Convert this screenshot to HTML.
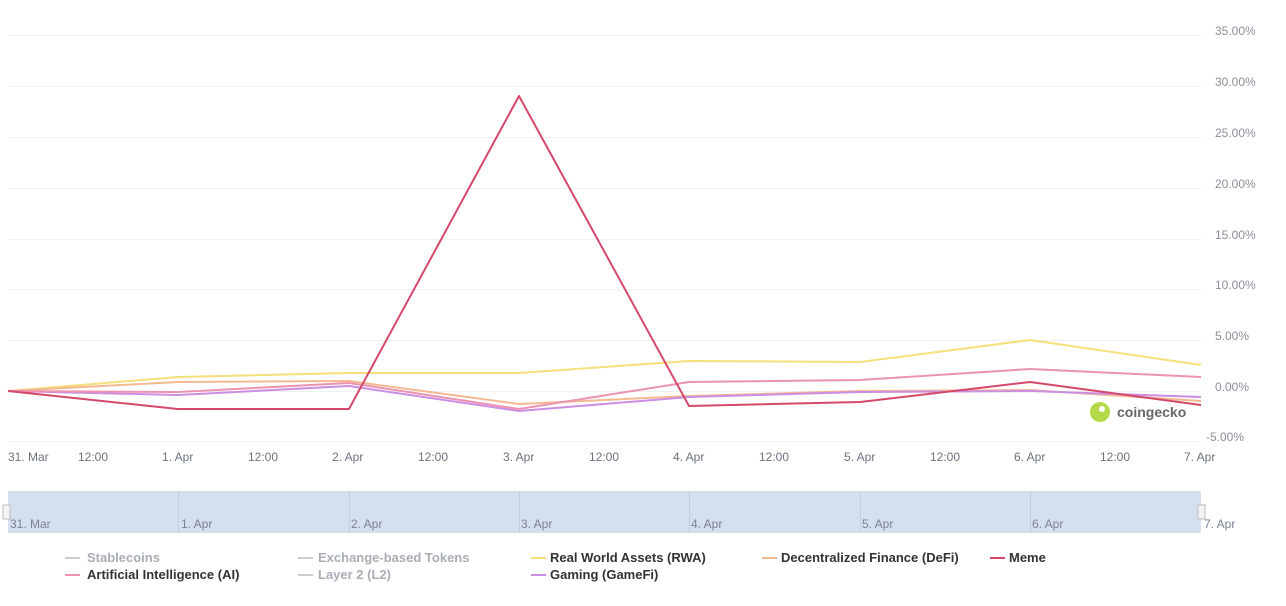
<!DOCTYPE html>
<html><head><style>
body{margin:0;background:#fff;font-family:"Liberation Sans",sans-serif;}
svg text{font-family:"Liberation Sans",sans-serif;}
</style></head><body>
<svg width="1286" height="601" xmlns="http://www.w3.org/2000/svg">
<g stroke="#eef0f3" stroke-width="1">
<line x1="8" x2="1201" y1="35.5" y2="35.5"/><line x1="8" x2="1201" y1="86.5" y2="86.5"/>
<line x1="8" x2="1201" y1="137.5" y2="137.5"/><line x1="8" x2="1201" y1="188.5" y2="188.5"/>
<line x1="8" x2="1201" y1="239.5" y2="239.5"/><line x1="8" x2="1201" y1="289.5" y2="289.5"/>
<line x1="8" x2="1201" y1="340.5" y2="340.5"/><line x1="8" x2="1201" y1="391.5" y2="391.5"/>
<line x1="8" x2="1201" y1="441.5" y2="441.5"/>
</g>
<g font-size="12" fill="#8a8f99">
<text x="1215" y="35">35.00%</text><text x="1215" y="86">30.00%</text><text x="1215" y="137">25.00%</text>
<text x="1215" y="188">20.00%</text><text x="1215" y="239">15.00%</text><text x="1215" y="289">10.00%</text>
<text x="1215" y="340">5.00%</text><text x="1215" y="391">0.00%</text><text x="1206" y="441">-5.00%</text>
</g>
<g font-size="12" fill="#6b7280">
<text x="8" y="461">31. Mar</text><text x="78" y="461">12:00</text><text x="162" y="461">1. Apr</text>
<text x="248" y="461">12:00</text><text x="332" y="461">2. Apr</text><text x="418" y="461">12:00</text>
<text x="503" y="461">3. Apr</text><text x="589" y="461">12:00</text><text x="673" y="461">4. Apr</text>
<text x="759" y="461">12:00</text><text x="844" y="461">5. Apr</text><text x="930" y="461">12:00</text>
<text x="1014" y="461">6. Apr</text><text x="1100" y="461">12:00</text><text x="1184" y="461">7. Apr</text>
</g>
<g fill="none" stroke-width="2" stroke-linejoin="round">
<polyline stroke="#f6df7a" points="8,391 178,377 349,373 519,373 689,361 860,362 1030,340 1201,365"/>
<polyline stroke="#f5b992" points="8,391 178,382 349,381 519,404 689,396 860,391 1030,390 1201,401"/>
<polyline stroke="#cc8ee2" points="8,391 178,395 349,386 519,411 689,397 860,392 1030,391 1201,397"/>
<polyline stroke="#ec93b2" points="8,391 178,392 349,383 519,409 689,382 860,380 1030,369 1201,377"/>
<polyline stroke="#d4496a" points="8,391 178,409 349,409 519,96 689,406 860,402 1030,382 1201,405"/>
</g>
<circle cx="1100" cy="412" r="10" fill="#b6d94a"/><circle cx="1102" cy="409" r="3" fill="#fff"/>
<text x="1117" y="417" font-size="14" font-weight="bold" fill="#666">coingecko</text>
<rect x="8" y="491" width="1193" height="42" fill="#d6dfee"/>
<g stroke="#c3cde0"><line x1="178.5" x2="178.5" y1="491" y2="533"/><line x1="349.5" x2="349.5" y1="491" y2="533"/><line x1="519.5" x2="519.5" y1="491" y2="533"/><line x1="689.5" x2="689.5" y1="491" y2="533"/><line x1="860.5" x2="860.5" y1="491" y2="533"/><line x1="1030.5" x2="1030.5" y1="491" y2="533"/></g>
<rect x="3" y="505" width="7" height="14" fill="#f4f4f4" stroke="#bbb"/><rect x="1198" y="505" width="7" height="14" fill="#f4f4f4" stroke="#bbb"/>
<g font-size="12" fill="#7b8290">
<text x="10" y="528">31. Mar</text><text x="181" y="528">1. Apr</text><text x="351" y="528">2. Apr</text><text x="521" y="528">3. Apr</text><text x="691" y="528">4. Apr</text><text x="862" y="528">5. Apr</text><text x="1032" y="528">6. Apr</text><text x="1204" y="528">7. Apr</text>
</g>
<g font-size="13" font-weight="bold" stroke-width="2">
<line x1="65" x2="80" y1="558" y2="558" stroke="#ccc"/><text x="87" y="562" fill="#a8adb6">Stablecoins</text>
<line x1="298" x2="313" y1="558" y2="558" stroke="#ccc"/><text x="318" y="562" fill="#a8adb6">Exchange-based Tokens</text>
<line x1="531" x2="546" y1="558" y2="558" stroke="#f6df7a"/><text x="550" y="562" fill="#333">Real World Assets (RWA)</text>
<line x1="762" x2="777" y1="558" y2="558" stroke="#f5b992"/><text x="781" y="562" fill="#333">Decentralized Finance (DeFi)</text>
<line x1="990" x2="1005" y1="558" y2="558" stroke="#d4496a"/><text x="1009" y="562" fill="#333">Meme</text>
<line x1="65" x2="80" y1="575" y2="575" stroke="#ec93b2"/><text x="87" y="579" fill="#333">Artificial Intelligence (AI)</text>
<line x1="298" x2="313" y1="575" y2="575" stroke="#ccc"/><text x="318" y="579" fill="#a8adb6">Layer 2 (L2)</text>
<line x1="531" x2="546" y1="575" y2="575" stroke="#cc8ee2"/><text x="550" y="579" fill="#333">Gaming (GameFi)</text>
</g>
</svg>
</body></html>
